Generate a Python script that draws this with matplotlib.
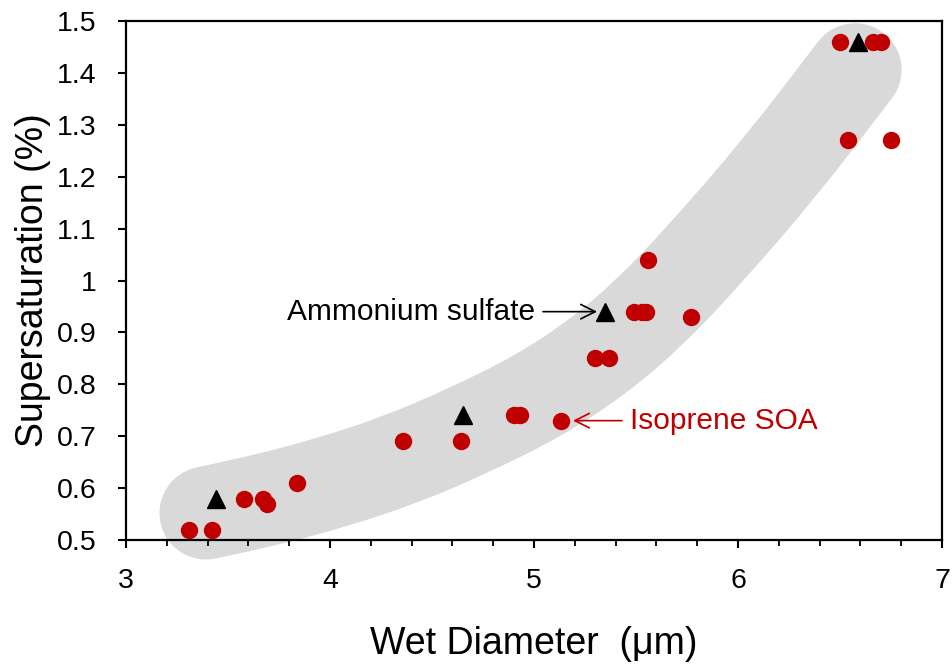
import matplotlib

matplotlib.use("Agg")
import matplotlib.pyplot as plt
from matplotlib.patches import PathPatch
from matplotlib.path import Path
from matplotlib.ticker import MultipleLocator

# Isoprene SOA droplets
soa_diameter = [3.31, 3.42, 3.58, 3.67, 3.69, 3.84, 4.36, 4.64, 4.90, 4.93,
                5.13, 5.30, 5.37, 5.49, 5.53, 5.55, 5.56, 5.77, 6.50, 6.66,
                6.70, 6.54, 6.75]
soa_ss = [0.52, 0.52, 0.58, 0.58, 0.57, 0.61, 0.69, 0.69, 0.74, 0.74,
          0.73, 0.85, 0.85, 0.94, 0.94, 0.94, 1.04, 0.93, 1.46, 1.46,
          1.46, 1.27, 1.27]

# Ammonium sulfate droplets
as_diameter = [3.44, 4.65, 5.35, 6.59]
as_ss = [0.58, 0.74, 0.94, 1.46]

# hand-drawn grey guide band (control points of its centre line)
band_x = [3.392, 3.706, 4.000, 4.343, 4.686, 5.029, 5.324, 5.569, 5.814, 6.206, 6.574]
band_y = [0.552, 0.579, 0.610, 0.654, 0.712, 0.779, 0.856, 0.939, 1.040, 1.217, 1.406]

RED = "#C00000"
GREY = "#D9D9D9"


def smooth_band_path(xs, ys):
    # quadratic curve through the midpoints, the listed points act as controls
    pts = list(zip(xs, ys))
    verts = [pts[0]]
    codes = [Path.MOVETO]
    mid = ((pts[0][0] + pts[1][0]) / 2, (pts[0][1] + pts[1][1]) / 2)
    verts.append(mid)
    codes.append(Path.LINETO)
    for i in range(1, len(pts) - 1):
        nxt = ((pts[i][0] + pts[i + 1][0]) / 2, (pts[i][1] + pts[i + 1][1]) / 2)
        verts += [pts[i], nxt]
        codes += [Path.CURVE3, Path.CURVE3]
    verts.append(pts[-1])
    codes.append(Path.LINETO)
    return Path(verts, codes)


plt.rcParams["font.family"] = ["Liberation Sans", "DejaVu Sans"]

fig = plt.figure(figsize=(9.53, 6.64), dpi=100)
ax = fig.add_axes([0.1322, 0.1867, 0.8563, 0.7817])

band = PathPatch(smooth_band_path(band_x, band_y), facecolor="none",
                 edgecolor=GREY, linewidth=67, capstyle="round",
                 joinstyle="round", clip_on=False, zorder=1)
ax.add_patch(band)
ax.plot(as_diameter, as_ss, linestyle="none", marker="^", markersize=13,
        color="black", zorder=3)
ax.plot(soa_diameter, soa_ss, linestyle="none", marker="o", markersize=11.5,
        color=RED, zorder=4)

ax.annotate("", xy=(5.309, 0.94), xytext=(5.044, 0.94),
            arrowprops=dict(arrowstyle="->", color="black", lw=1.2,
                            mutation_scale=26, shrinkA=0, shrinkB=0))
ax.text(5.005, 0.94, "Ammonium sulfate", ha="right", va="center",
        fontsize=21.5, color="black")
ax.annotate("", xy=(5.191, 0.73), xytext=(5.431, 0.73),
            arrowprops=dict(arrowstyle="->", color=RED, lw=1.2,
                            mutation_scale=26, shrinkA=0, shrinkB=0))
ax.text(5.471, 0.73, "Isoprene SOA", ha="left", va="center",
        fontsize=21.5, color=RED)

ax.set_xlim(3, 7)
ax.set_ylim(0.5, 1.5)
ax.xaxis.set_major_locator(MultipleLocator(1))
ax.xaxis.set_minor_locator(MultipleLocator(0.2))
ax.set_yticks([0.5, 0.6, 0.7, 0.8, 0.9, 1.0, 1.1, 1.2, 1.3, 1.4, 1.5])
ax.set_yticklabels(["0.5", "0.6", "0.7", "0.8", "0.9", "1", "1.1", "1.2",
                    "1.3", "1.4", "1.5"])
ax.tick_params(axis="both", which="major", direction="out", length=6,
               width=1.5, labelsize=20.5)
ax.tick_params(axis="x", which="major", pad=14)
ax.tick_params(axis="y", which="major", pad=15)
ax.tick_params(axis="x", which="minor", direction="out", length=4, width=1.3)
for side in ["left", "bottom", "top", "right"]:
    ax.spines[side].set_linewidth(1.6)

ax.set_xlabel("Wet Diameter  (\u03bcm)", fontsize=27)
ax.set_ylabel("Supersaturation (%)", fontsize=27)
ax.xaxis.set_label_coords(0.5, -0.166)
ax.yaxis.set_label_coords(-0.092, 0.5)

fig.savefig("out.png", dpi=100)
